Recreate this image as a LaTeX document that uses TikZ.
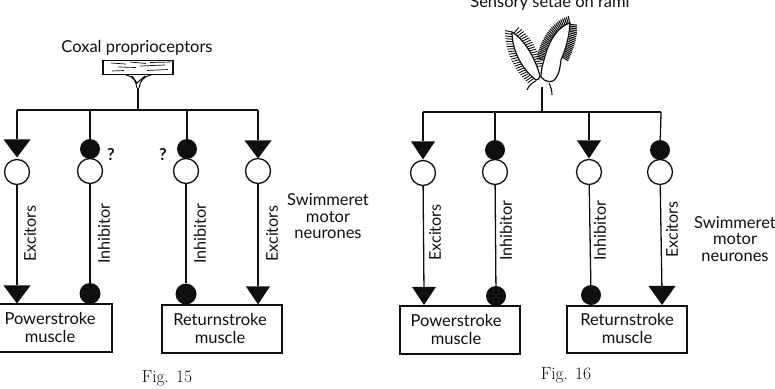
\documentclass[tikz,border=0pt]{standalone}
\usepackage{fontspec}
\setsansfont{Lato}
\usetikzlibrary{shapes.geometric,decorations.markings}
\definecolor{ink}{gray}{0.06}
\tikzset{
  lbl/.style={font=\sffamily\fontsize{16.5}{16.5}\selectfont, text=ink, inner sep=0pt, align=center},
  vlbl/.style={font=\sffamily\fontsize{16.2}{16.2}\selectfont, text=ink, inner sep=0pt, rotate=90, anchor=west},
  nerve/.style={draw=ink, line width=1.3pt},
  soma/.style={circle, draw=ink, fill=white, line width=1.3pt, minimum size=25pt, inner sep=0pt},
  inhib/.style={circle, fill=ink, minimum size=20pt, inner sep=0pt},
  excit/.style={isosceles triangle, isosceles triangle stretches, shape border rotate=-90,
     fill=ink, inner sep=0pt, minimum width=27pt, minimum height=18pt},
  musclebox/.style={draw=ink, line width=1.5pt, fill=white, inner sep=0pt},
  caption/.style={font=\rmfamily\fontsize{17.5}{17.5}\selectfont, text=ink, inner sep=0pt},
  seta/.style={draw=ink, line width=0.9pt},
}
\begin{document}
\begin{tikzpicture}[x=1pt,y=-1pt]
\useasboundingbox (0,0) rectangle (775,388);

%% ---------- Fig. 15 ----------
\node[lbl] (coxaltitle) at (137,48) {Coxal proprioceptors};
\node[draw=ink, line width=1.2pt, minimum width=70pt, minimum height=14pt, inner sep=0pt] (coxal) at (138,67.5) {};
\draw[ink, line width=0.7pt] (111,63)--(126,64) (130,62)--(146,63.5) (112,71)--(124,70.5) (118,67)--(136,67.5)
  (140,66)--(165,65) (147,70.5)--(168,69.5) (150,62.5)--(171,62);
\draw[ink, line width=1pt] (126,75) .. controls (133,76) and (136,81) .. (137,88)
  (151,75) .. controls (144,76) and (140,81) .. (139,88)
  (132,76)--(137,83)--(145,76);
\coordinate (j15) at (138,110);
\coordinate (c15) at (138,88);
\coordinate (a1) at (17,110);
\coordinate (a2) at (90,110);
\coordinate (a3) at (187,110);
\coordinate (a4) at (258,110);
\draw[nerve] (c15)--(j15);
\draw[nerve] (a1)--(a4);

\node[excit, anchor=apex] (pre1) at (17,158) {};
\node[inhib] (pre2) at (90,149) {};
\node[inhib] (pre3) at (187,149) {};
\node[excit, anchor=apex] (pre4) at (258,159) {};
\node[soma] (s1) at (17,172) {};
\node[soma] (s2) at (90,171) {};
\node[soma] (s3) at (186,171) {};
\node[soma] (s4) at (258,171) {};
\node[musclebox, minimum width=114pt, minimum height=48pt] (m1) at (55,328) {};
\node[musclebox, minimum width=120pt, minimum height=48pt] (m2) at (222,329) {};
\node[excit, anchor=apex] (end1) at (17,304) {};
\node[inhib, minimum size=21pt] (end2) at (90,293.5) {};
\node[inhib, minimum size=21pt] (end3) at (186,294) {};
\node[excit, minimum width=24pt, anchor=apex] (end4) at (258,305) {};

\foreach \a/\p/\s/\e in {a1/pre1/s1/end1,a2/pre2/s2/end2,a3/pre3/s3/end3,a4/pre4/s4/end4}{
  \draw[nerve] (\a)--(\p);
  \draw[nerve] (\s)--(\e);
}
\node[vlbl] (t1) at (30,262) {Excitors};
\node[vlbl] (t2) at (104,264) {Inhibitor};
\node[vlbl] (t3) at (200,264) {Inhibitor};
\node[vlbl] (t4) at (272,262) {Excitors};
\node[lbl] (q1) at (111,155) {\bfseries ?};
\node[lbl] (q2) at (163,155) {\bfseries ?};
\node[lbl] (sw15) at (328,216.5) {Swimmeret\\motor\\neurones};
\node[lbl] (m1t) at (50,327) {Powerstroke\\[1.5pt]muscle};
\node[lbl] (m2t) at (220,328) {Returnstroke\\[1.5pt]muscle};
\node[caption] (f15) at (167,378) {Fig. \oldstylenums{15}};

%% ---------- Fig. 16 ----------
\node[lbl, anchor=base] (setaetitle) at (550,7) {Sensory setae on rami};

% Swimmeret rami fringed with setae
\path[postaction={decorate}, decoration={markings,
    mark=between positions 0.02 and 0.98 step 2.4pt with {\draw[seta] (0,0)--(1.5pt,7pt);}}]
  (535,80) .. controls (523,70) and (512,52) .. (512,32)
  .. controls (518,33) and (531,48) .. (537,70);
\path[postaction={decorate}, decoration={markings,
    mark=between positions 0.02 and 0.98 step 1.7pt with {\draw[seta,line width=1.1pt] (0,0)--(1pt,7pt);}}]
  (543,62) .. controls (546,44) and (556,28) .. (570,23)
  .. controls (571,38) and (566,48) .. (561,60);
\draw[ink, line width=1.2pt, fill=white]
  (512,32) .. controls (512,52) and (523,70) .. (536,80)
  .. controls (538,80) and (539,79) .. (540,76)
  .. controls (534,54) and (522,38) .. (512,32) -- cycle;
\draw[ink, line width=1.2pt, fill=white]
  (570,23) .. controls (558,26) and (548,42) .. (544,60)
  .. controls (542,66) and (541,72) .. (541,77)
  .. controls (545,82) and (552,84) .. (556,78)
  .. controls (560,72) and (560,66) .. (561,60)
  .. controls (566,48) and (569,38) .. (570,23) -- cycle;
\draw[ink, line width=1.1pt]
  (527,90) .. controls (529,85) and (533,82) .. (536,81)
  (552,95) .. controls (552,91) and (551,87) .. (549,83);

\coordinate (c16) at (542,87);
\coordinate (j16) at (542,112);
\coordinate (b1) at (423,112);
\coordinate (b2) at (495,112);
\coordinate (b3) at (589,112);
\coordinate (b4) at (661,112);
\draw[nerve] (c16)--(j16);
\draw[nerve] (b1)--(b4);

\node[excit, minimum width=24pt, anchor=apex] (qre1) at (423,160) {};
\node[inhib] (qre2) at (495,150) {};
\node[excit, minimum width=24pt, anchor=apex] (qre3) at (589,159) {};
\node[inhib] (qre4) at (660,150) {};
\node[soma] (r1) at (423,173) {};
\node[soma] (r2) at (495,172) {};
\node[soma] (r3) at (589,172) {};
\node[soma] (r4) at (660,172) {};
\node[musclebox, minimum width=120pt, minimum height=48pt] (n1) at (460,330) {};
\node[musclebox, minimum width=120pt, minimum height=47pt] (n2) at (627,329.5) {};
\node[excit, minimum width=24pt, anchor=apex] (fin1) at (424,305.5) {};
\node[inhib] (fin2) at (496,296) {};
\node[inhib] (fin3) at (591,295) {};
\node[excit, minimum height=19pt, anchor=apex] (fin4) at (662,305.5) {};

\foreach \a/\p/\s/\e in {b1/qre1/r1/fin1,b2/qre2/r2/fin2,b3/qre3/r3/fin3,b4/qre4/r4/fin4}{
  \draw[nerve] (\a)--(\p);
  \draw[nerve] (\s)--(\e);
}
\node[vlbl] (u1) at (435,261) {Excitors};
\node[vlbl] (u2) at (506,261) {Inhibitor};
\node[vlbl] (u3) at (600,261) {Inhibitor};
\node[vlbl] (u4) at (672,258) {Excitors};
\node[lbl] (sw16) at (735,239) {Swimmeret\\motor\\neurones};
\node[lbl] (n1t) at (456,329) {Powerstroke\\[1.5pt]muscle};
\node[lbl] (n2t) at (627,328) {Returnstroke\\[1.5pt]muscle};
\node[caption] (f16) at (566,375) {Fig. \oldstylenums{16}};
\end{tikzpicture}
\end{document}
